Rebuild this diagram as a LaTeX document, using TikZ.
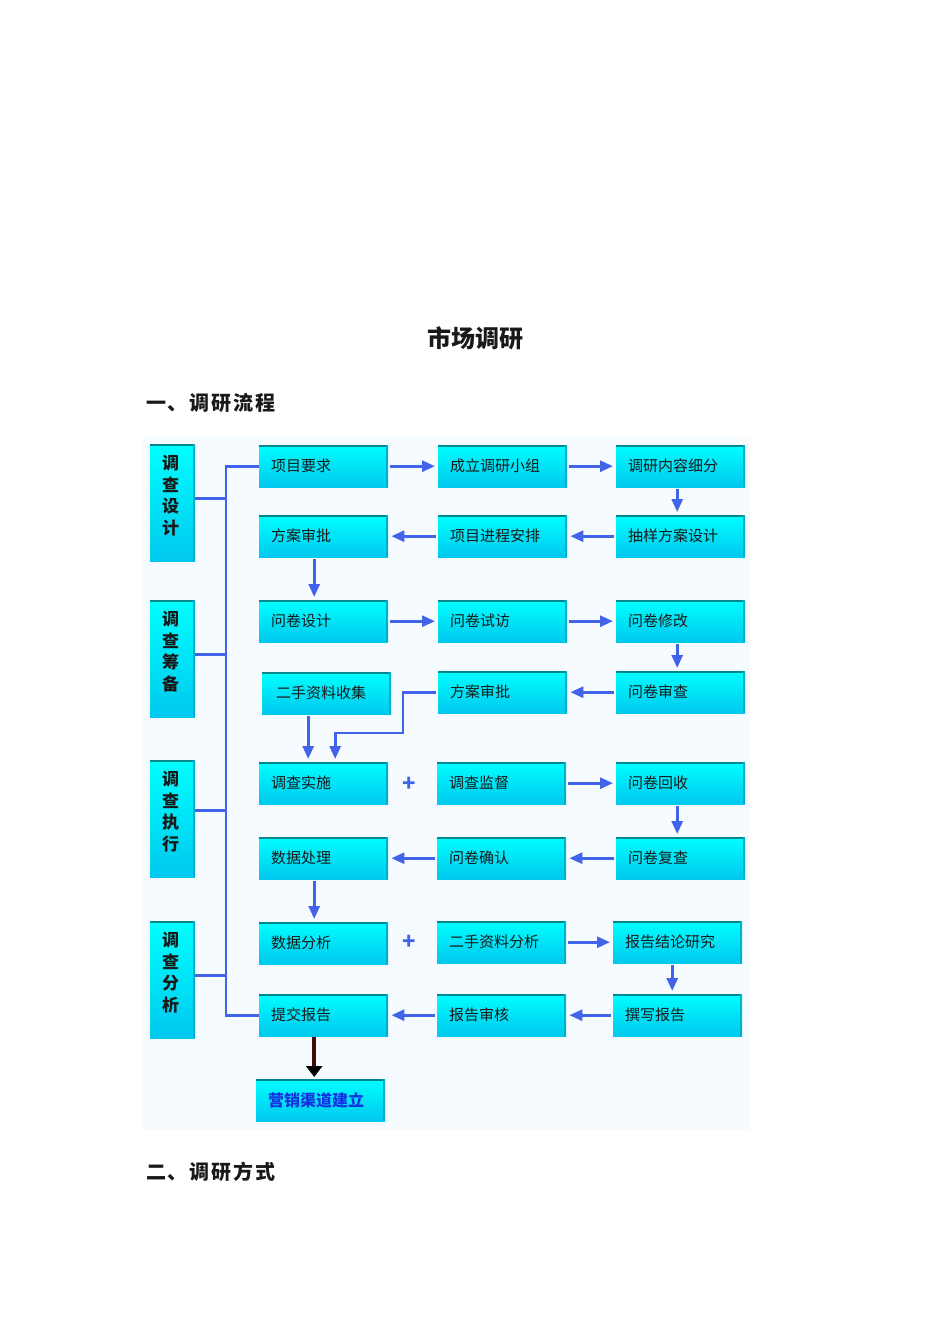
\documentclass[tikz,border=0pt]{standalone}
\usepackage{fontspec}
\newfontfamily\cjk{Noto Sans CJK SC}
\newfontfamily\cjkwide{Noto Sans CJK SC}[LetterSpace=9]
\usetikzlibrary{arrows.meta}
\definecolor{bg}{RGB}{245,251,255}
\definecolor{ctop}{RGB}{0,255,255}
\definecolor{cbot}{RGB}{0,200,238}
\definecolor{cedge}{RGB}{0,135,140}
\definecolor{cside}{RGB}{0,175,205}
\definecolor{ablue}{RGB}{65,100,235}
\definecolor{tblue}{RGB}{20,50,225}
\definecolor{dbrown}{RGB}{70,10,10}
\definecolor{txt}{RGB}{25,25,25}
\tikzset{
 bevel/.style={top color=ctop, bottom color=cbot,
   path picture={\fill[cedge] (path picture bounding box.north west) rectangle ([yshift=-1.5pt]path picture bounding box.north east);
   \fill[cside] ([xshift=-2.5pt]path picture bounding box.north east) rectangle (path picture bounding box.south east);}},
 box/.style={bevel, anchor=north west, minimum width=129pt, minimum height=42pt, text width=105pt, inner xsep=12pt, inner ysep=0pt, align=left, font=\cjk\fontsize{15}{18}\selectfont, text=txt},
 lbox/.style={bevel, anchor=north west, minimum width=45pt, minimum height=117pt, inner sep=0pt},
 ltext/.style={align=center, inner sep=0pt, font=\cjk\bfseries\fontsize{17}{21.7}\selectfont, text=txt},
 flow/.style={draw=ablue, line width=2.8pt, -{Triangle[length=13pt,width=11pt]}, shorten <=2pt, shorten >=3pt},
 bus/.style={draw=ablue, line width=2.8pt},
 plus/.style={text=ablue, font=\cjk\bfseries\fontsize{22}{22}\selectfont, inner sep=0pt},
 heading/.style={font=\cjkwide\bfseries\fontsize{20}{24}\selectfont, anchor=west, inner sep=0pt, text=txt}
}
\begin{document}
\begin{tikzpicture}[x=1pt,y=-1pt]
\fill[white] (0,0) rectangle (950,1344);
\useasboundingbox (0,0) rectangle (950,1344);
\node[font=\cjk\bfseries\fontsize{24}{28}\selectfont, text=txt, inner sep=0pt] (title) at (475,338) {市场调研};
\node[heading] (sec1) at (146,403) {一、调研流程};
\node[heading] (sec2) at (146,1172) {二、调研方式};
\fill[bg] (143,437) rectangle (750,1130);
% left labels
\node[lbox] (L1) at (150,444) {};
\node[lbox] (L2) at (150,600) {};
\node[lbox] (L3) at (150,760) {};
\node[lbox] (L4) at (150,921) {};
\node[ltext] (L1t) at ([xshift=-2pt,yshift=7pt]L1.center) {调\\查\\设\\计};
\node[ltext] (L2t) at ([xshift=-2pt,yshift=7pt]L2.center) {调\\查\\筹\\备};
\node[ltext] (L3t) at ([xshift=-2pt,yshift=7pt]L3.center) {调\\查\\执\\行};
\node[ltext] (L4t) at ([xshift=-2pt,yshift=7pt]L4.center) {调\\查\\分\\析};
% boxes
\node[box] (a1) at (259,445) {项目要求};
\node[box] (a2) at (438,445) {成立调研小组};
\node[box] (a3) at (616,445) {调研内容细分};
\node[box] (b1) at (259,515) {方案审批};
\node[box] (b2) at (438,515) {项目进程安排};
\node[box] (b3) at (616,515) {抽样方案设计};
\node[box] (c1) at (259,600) {问卷设计};
\node[box] (c2) at (438,600) {问卷试访};
\node[box] (c3) at (616,600) {问卷修改};
\node[box, inner xsep=14pt, text width=101pt] (d1) at (262,672) {二手资料收集};
\node[box] (d2) at (438,671) {方案审批};
\node[box] (d3) at (616,671) {问卷审查};
\node[box] (e1) at (259,762) {调查实施};
\node[box] (e2) at (437,762) {调查监督};
\node[box] (e3) at (616,762) {问卷回收};
\node[box] (f1) at (259,837) {数据处理};
\node[box] (f2) at (437,837) {问卷确认};
\node[box] (f3) at (616,837) {问卷复查};
\node[box] (g1) at (259,922) {数据分析};
\node[box] (g2) at (437,921) {二手资料分析};
\node[box] (g3) at (613,921) {报告结论研究};
\node[box] (h1) at (259,994) {提交报告};
\node[box] (h2) at (437,994) {报告审核};
\node[box] (h3) at (613,994) {撰写报告};
\node[box, font=\cjk\bfseries\fontsize{16}{18}\selectfont, text=tblue] (k1) at (256,1079) {营销渠道建立};
% plus signs
\node[plus] (p1) at (409,784) {+};
\node[plus] (p2) at (409,942) {+};
% bus
\coordinate (busmid) at (226,740);
\draw[bus] (a1.west) -| (busmid) |- (h1.west);
\draw[bus] ([yshift=4pt]L1.east) -- ([yshift=4pt]L1.east -| busmid);
\draw[bus] ([yshift=4pt]L2.east) -- ([yshift=4pt]L2.east -| busmid);
\draw[bus] ([yshift=8pt]L3.east) -- ([yshift=8pt]L3.east -| busmid);
\draw[bus] ([yshift=4pt]L4.east) -- ([yshift=4pt]L4.east -| busmid);
% arrows
\draw[flow] (a1.east) -- (a2.west);
\draw[flow] (a2.east) -- (a3.west);
\draw[flow] ([xshift=-3.5pt]a3.south) -- ([xshift=-3.5pt]b3.north);
\draw[flow] (b3.west) -- (b2.east);
\draw[flow] (b2.west) -- (b1.east);
\draw[flow] ([xshift=-9.5pt]b1.south) -- ([xshift=-9.5pt]c1.north);
\draw[flow] (c1.east) -- (c2.west);
\draw[flow] (c2.east) -- (c3.west);
\draw[flow] ([xshift=-3.5pt]c3.south) -- ([xshift=-3.5pt]d3.north);
\draw[flow] (d3.west) -- (d2.east);
\draw[flow] ([xshift=-18.5pt]d1.south) -- ([xshift=-15.5pt]e1.north);
\coordinate (bend) at (403,733);
\draw[flow] (d2.west) -| (bend) -| ([xshift=11.5pt]e1.north);
\draw[flow] (e2.east) -- (e3.west);
\draw[flow] ([xshift=-3.5pt]e3.south) -- ([xshift=-3.5pt]f3.north);
\draw[flow] (f3.west) -- (f2.east);
\draw[flow] (f2.west) -- (f1.east);
\draw[flow] ([xshift=-9.5pt]f1.south) -- ([xshift=-9.5pt]g1.north);
\draw[flow] (g2.east) -- (g3.west);
\draw[flow] ([xshift=-5.5pt]g3.south) -- ([xshift=-5.5pt]h3.north);
\draw[flow] (h3.west) -- (h2.east);
\draw[flow] (h2.west) -- (h1.east);
\draw[draw=dbrown, line width=3.5pt, -{Triangle[length=11pt,width=16pt,fill=black,color=black]}, shorten <=1pt, shorten >=2pt] ([xshift=-9.5pt]h1.south) -- ([xshift=-6.5pt]k1.north);
\end{tikzpicture}
\end{document}
